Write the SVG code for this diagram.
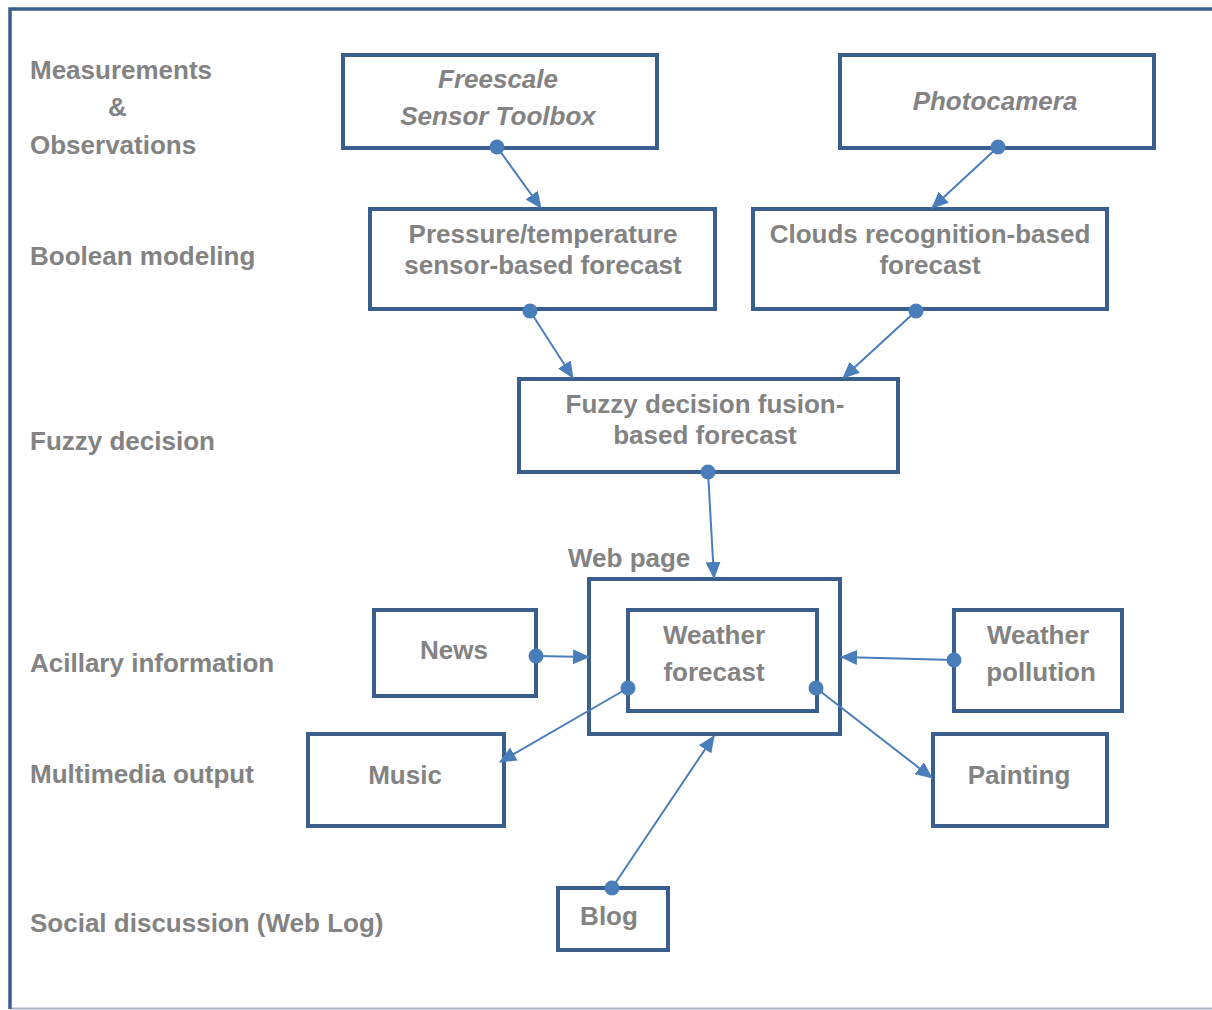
<svg xmlns="http://www.w3.org/2000/svg" width="1212" height="1010" viewBox="0 0 1212 1010">
<style>
.box{fill:#fff;stroke:#3a5f8f;stroke-width:4}
.t{font-family:"Liberation Sans",Arial,sans-serif;font-weight:bold;font-size:26px;fill:#838383}
.c{text-anchor:middle}
.i{font-style:italic}
.con{stroke:#4a7ebb;stroke-width:2;fill:none;marker-start:url(#dot);marker-end:url(#arr)}
</style>
<defs>
<marker id="arr" markerUnits="userSpaceOnUse" markerWidth="17" markerHeight="15" refX="16" refY="7.5" orient="auto">
<path d="M0,0 L17,7.5 L0,15 z" fill="#4a7ebb"/>
</marker>
<marker id="dot" markerUnits="userSpaceOnUse" markerWidth="16" markerHeight="16" refX="8" refY="8">
<circle cx="8" cy="8" r="7.5" fill="#4a7ebb"/>
</marker>
</defs>
<rect width="1212" height="1010" fill="#fff"/>
<g id="frame">
<line x1="10" y1="1008.5" x2="1212" y2="1008.5" stroke="#aab4c6" stroke-width="2"/>
<path d="M1212,9 H10 V1009" fill="none" stroke="#3a5f8f" stroke-width="3.5"/>
</g>
<g id="labels" class="t">
<text x="30" y="79">Measurements</text>
<text x="108" y="116">&amp;</text>
<text x="30" y="154">Observations</text>
<text x="30" y="265">Boolean modeling</text>
<text x="30" y="450">Fuzzy decision</text>
<text x="30" y="672">Acillary information</text>
<text x="30" y="783">Multimedia output</text>
<text x="30" y="932">Social discussion (Web Log)</text>
<text x="568" y="567">Web page</text>
</g>
<g id="freescale">
<rect class="box" x="343" y="55" width="314" height="93"/>
<text class="t c i" x="498" y="88">Freescale</text>
<text class="t c i" x="498" y="125">Sensor Toolbox</text>
</g>
<g id="photocamera">
<rect class="box" x="840" y="55" width="314" height="93"/>
<text class="t c i" x="995" y="110">Photocamera</text>
</g>
<g id="pressure">
<rect class="box" x="370" y="209" width="345" height="100"/>
<text class="t c" x="543" y="243">Pressure/temperature</text>
<text class="t c" x="543" y="274">sensor-based forecast</text>
</g>
<g id="clouds">
<rect class="box" x="753" y="209" width="354" height="100"/>
<text class="t c" x="930" y="243">Clouds recognition-based</text>
<text class="t c" x="930" y="274">forecast</text>
</g>
<g id="fuzzy">
<rect class="box" x="519" y="379" width="379" height="93"/>
<text class="t c" x="705" y="413">Fuzzy decision fusion-</text>
<text class="t c" x="705" y="444">based forecast</text>
</g>
<g id="webpage">
<rect class="box" x="589" y="579" width="251" height="155"/>
</g>
<g id="weatherforecast">
<rect class="box" x="628" y="610" width="189" height="101"/>
<text class="t c" x="714" y="644">Weather</text>
<text class="t c" x="714" y="681">forecast</text>
</g>
<g id="news">
<rect class="box" x="374" y="610" width="162" height="86"/>
<text class="t c" x="454" y="659">News</text>
</g>
<g id="pollution">
<rect class="box" x="954" y="610" width="168" height="101"/>
<text class="t c" x="1038" y="644">Weather</text>
<text class="t c" x="1041" y="681">pollution</text>
</g>
<g id="music">
<rect class="box" x="308" y="734" width="196" height="92"/>
<text class="t c" x="405" y="784">Music</text>
</g>
<g id="painting">
<rect class="box" x="933" y="734" width="174" height="92"/>
<text class="t c" x="1019" y="784">Painting</text>
</g>
<g id="blog">
<rect class="box" x="558" y="888" width="110" height="62"/>
<text class="t c" x="609" y="925">Blog</text>
</g>
<g id="connectors">
<line class="con" x1="497" y1="147" x2="541" y2="208"/>
<line class="con" x1="998" y1="147" x2="932" y2="208"/>
<line class="con" x1="530" y1="311" x2="573" y2="378"/>
<line class="con" x1="916" y1="311" x2="843" y2="378"/>
<line class="con" x1="708" y1="472" x2="714" y2="578"/>
<line class="con" x1="536" y1="656" x2="589" y2="657"/>
<line class="con" x1="954" y1="660" x2="841" y2="657"/>
<line class="con" x1="628" y1="688" x2="500" y2="762"/>
<line class="con" x1="816" y1="688" x2="932" y2="778"/>
<line class="con" x1="612" y1="888" x2="714" y2="736"/>
</g>
</svg>
